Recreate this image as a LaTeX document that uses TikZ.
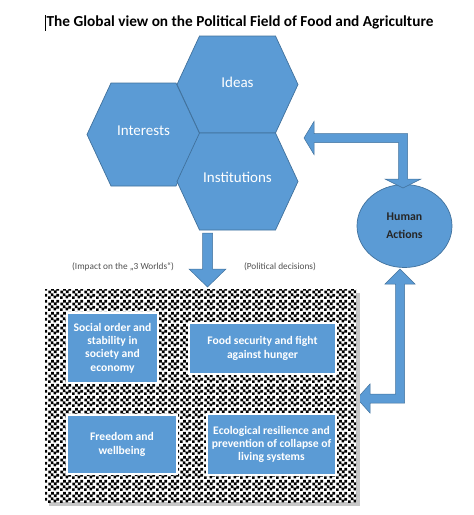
\documentclass[tikz,border=0pt]{standalone}
\usepackage{fontspec}
\setmainfont{Carlito}
\usetikzlibrary{patterns,shapes.geometric}
\definecolor{blfill}{RGB}{91,155,213}
\definecolor{bldraw}{RGB}{65,113,156}
\definecolor{labgray}{RGB}{80,80,80}
\pgfdeclarepatternformonly{confetti}{\pgfpointorigin}{\pgfpoint{12pt}{12pt}}{\pgfpoint{12pt}{12pt}}{%
  \pgfpathrectangle{\pgfpoint{0pt}{0pt}}{\pgfpoint{2.9pt}{2.9pt}}%
  \pgfpathrectangle{\pgfpoint{6pt}{0.8pt}}{\pgfpoint{2.9pt}{2.9pt}}%
  \pgfpathrectangle{\pgfpoint{3pt}{3.1pt}}{\pgfpoint{2.9pt}{2.9pt}}%
  \pgfpathrectangle{\pgfpoint{9pt}{2.6pt}}{\pgfpoint{2.9pt}{2.9pt}}%
  \pgfpathrectangle{\pgfpoint{0.5pt}{6pt}}{\pgfpoint{2.9pt}{2.9pt}}%
  \pgfpathrectangle{\pgfpoint{6.4pt}{6.4pt}}{\pgfpoint{2.9pt}{2.9pt}}%
  \pgfpathrectangle{\pgfpoint{3.5pt}{9pt}}{\pgfpoint{2.9pt}{2.9pt}}%
  \pgfpathrectangle{\pgfpoint{9pt}{9pt}}{\pgfpoint{2.9pt}{2.9pt}}%
  \pgfusepath{fill}}
\tikzset{
  hexshape/.style={fill=blfill,draw=bldraw,line width=0.7pt},
  hextext/.style={text=white,font=\fontsize{15}{18}\selectfont},
  blockarrow/.style={fill=blfill,draw=bldraw,line width=0.5pt},
  goalbox/.style={rectangle,fill=blfill,draw=white,line width=1.2pt,text=white,
    align=center,inner sep=2pt,font=\bfseries\fontsize{11.6}{13.4}\selectfont},
  smalllabel/.style={text=labgray,font=\fontsize{9.3}{11}\selectfont},
}
\begin{document}
\begin{tikzpicture}[x=1pt,y=-1pt]
\useasboundingbox (0,0) rectangle (474,515);
% title
\node[inner sep=0pt,font=\bfseries\fontsize{15.3}{18}\selectfont] (title) at (240,22)
  {The Global view on the Political Field of Food and Agriculture};
\draw[line width=0.8pt] ([xshift=-1.5pt]title.north west) -- ([xshift=-1.5pt,yshift=-2pt]title.south west);
% hexagons
\draw[hexshape] (177,84.5)--(199.5,36)--(275.5,36)--(298,84.5)--(275.5,133)--(199.5,133)--cycle;
\draw[hexshape] (87,134.5)--(111,83)--(176,83)--(200,134.5)--(176,186)--(111,186)--cycle;
\draw[hexshape] (177,181.5)--(199.5,133)--(275.5,133)--(298,181.5)--(275.5,230)--(199.5,230)--cycle;
\node[hextext] (ideas) at (237.5,82) {Ideas};
\node[hextext] (interests) at (143.5,131) {Interests};
\node[hextext] (institutions) at (237.5,177) {Institutions};
% human actions
\node[ellipse,fill=blfill,draw=bldraw,line width=0.7pt,minimum width=95pt,minimum height=83pt,
  inner sep=0pt,align=center,text=black!85,font=\bfseries\fontsize{11.8}{18}\selectfont] (human) at (404.5,226)
  {Human\\Actions};
% top bent arrow
\draw[blockarrow] (304,138)--(314,121.5)--(314,133.5)--(407.5,133.5)--(407.5,179)--(421,179)
  --(403,188)--(385,179)--(398.5,179)--(398.5,142.5)--(314,142.5)--(314,154.5)--cycle;
% bottom bent arrow
\draw[blockarrow] (400,269)--(415,284)--(404.5,284)--(404.5,403)--(370,403)--(370,413)
  --(357,398.5)--(370,384)--(370,394)--(395.5,394)--(395.5,284)--(385,284)--cycle;
% down arrow
\draw[blockarrow] (202.5,233)--(212.5,233)--(212.5,269)--(226,269)--(207.5,287)--(189,269)--(202.5,269)--cycle;
% labels
\node[smalllabel] (impact) at (123,267) {(Impact on the „3 Worlds“)};
\node[smalllabel] (political) at (280,267) {(Political decisions)};
% patterned field
\fill[black!22] (48.5,292.5) rectangle (359.5,505.5);
\fill[white] (45,289) rectangle (356,502);
\fill[pattern=confetti,pattern color=black] (45,289) rectangle (356,502);
% goal boxes
\node[goalbox,minimum width=91pt,minimum height=70pt] (social) at (112.5,348)
  {Social order and\\stability in\\society and\\economy};
\node[goalbox,minimum width=147pt,minimum height=51pt] (food) at (262.5,348.5)
  {Food security and fight\\against hunger};
\node[goalbox,minimum width=110pt,minimum height=59pt] (freedom) at (122,444.5)
  {Freedom and\\wellbeing};
\node[goalbox,minimum width=129pt,minimum height=61pt] (eco) at (271.5,444.5)
  {Ecological resilience and\\prevention of collapse of\\living systems};
\end{tikzpicture}
\end{document}
